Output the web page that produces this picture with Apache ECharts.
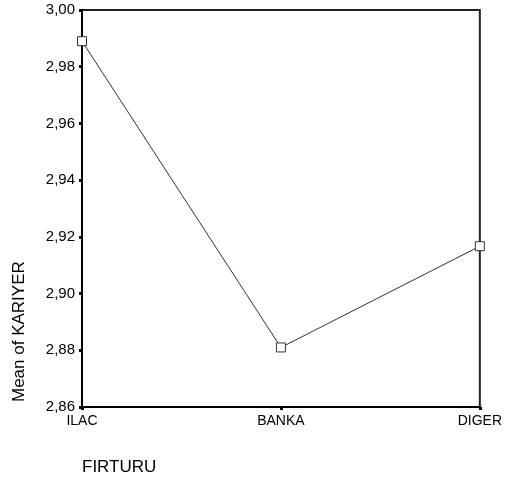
<!DOCTYPE html>
<html>
<head>
<meta charset="utf-8">
<script src="https://cdn.jsdelivr.net/npm/echarts@6/dist/echarts.min.js"></script>
<style>html,body{margin:0;padding:0;background:#fff}#c{width:505px;height:484px}</style>
</head>
<body>
<div id="c"></div>
<script>
var categories = ['ILAC', 'BANKA', 'DIGER'];
var meanKariyer = [2.989, 2.881, 2.9167];
var yTicks = { min: 2.86, max: 3.00, step: 0.02 };

var chart = echarts.init(document.getElementById('c'), null, { renderer: 'canvas' });
chart.setOption({
  animation: false,
  backgroundColor: '#fff',
  grid: { left: 82, right: 24, top: 10, bottom: 77, show: true, borderColor: '#222', borderWidth: 2, containLabel: false },
  xAxis: {
    type: 'category',
    data: categories,
    boundaryGap: false,
    axisLine: { lineStyle: { color: '#000', width: 2 } },
    axisTick: { show: true, length: 3, lineStyle: { color: '#000', width: 3 } },
    axisLabel: { color: '#000', fontFamily: 'Liberation Sans, Arial', fontSize: 14, margin: 7 },
    splitLine: { show: false }
  },
  yAxis: {
    type: 'value',
    min: yTicks.min,
    max: yTicks.max,
    interval: yTicks.step,
    axisLine: { show: true, lineStyle: { color: '#000', width: 2 } },
    axisTick: { show: true, length: 3, lineStyle: { color: '#000', width: 3 } },
    axisLabel: { color: '#000', fontFamily: 'Liberation Sans, Arial', fontSize: 15, margin: 7,
      formatter: function (v) { return v.toFixed(2).replace('.', ','); } },
    splitLine: { show: false }
  },
  graphic: [
    { type: 'text', x: 19, y: 402, rotation: Math.PI / 2,
      style: { text: 'Mean of KARIYER', fontFamily: 'Liberation Sans, Arial', fontSize: 17, fill: '#000',
        textAlign: 'left', textVerticalAlign: 'middle' } },
    { type: 'text', x: 82, y: 467,
      style: { text: 'FIRTURU', fontFamily: 'Liberation Sans, Arial', fontSize: 17, fill: '#000',
        textAlign: 'left', textVerticalAlign: 'middle' } }
  ],
  series: [{
    type: 'line',
    data: meanKariyer,
    symbol: 'rect',
    symbolSize: 9,
    lineStyle: { color: '#333', width: 1 },
    itemStyle: { color: '#fff', borderColor: '#333', borderWidth: 1 }
  }]
});
</script>
</body>
</html>
